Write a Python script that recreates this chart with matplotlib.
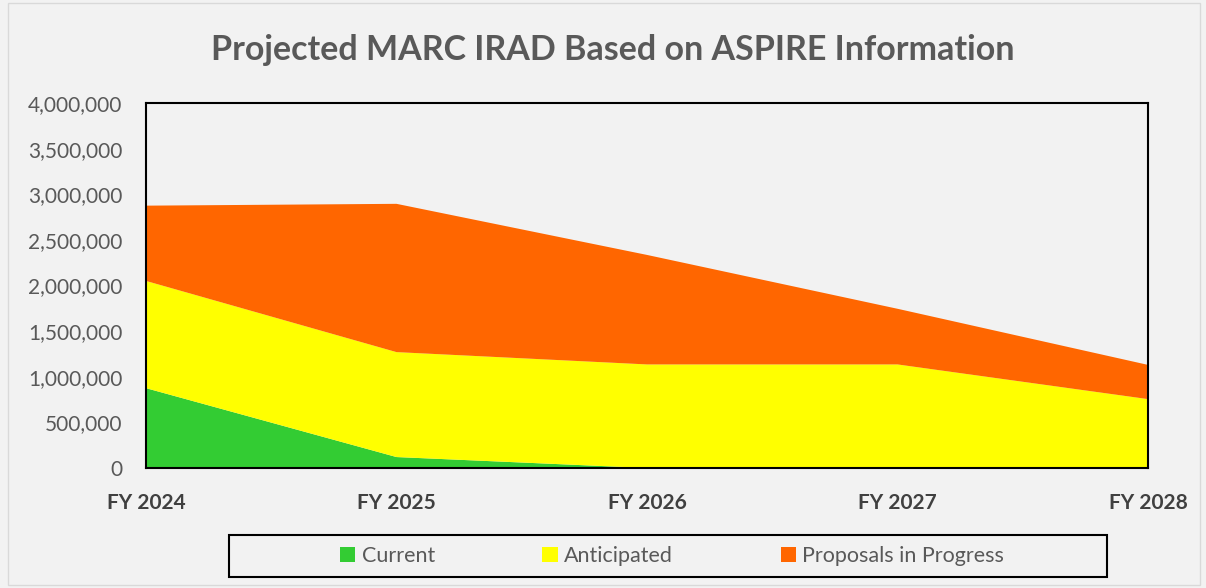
import matplotlib.pyplot as plt
from matplotlib.patches import Rectangle
from matplotlib.ticker import FuncFormatter

# donnees (valeurs empilees)
annees = ['FY 2024', 'FY 2025', 'FY 2026', 'FY 2027', 'FY 2028']
current = [875000, 120000, 0, 0, 0]
anticipated = [1175000, 1150000, 1135000, 1135000, 755000]
proposals = [825000, 1625000, 1200000, 610000, 375000]
series_labels = ['Current', 'Anticipated', 'Proposals in Progress']
series_colors = ['#33CC33', '#FFFF00', '#FF6600']

plt.rcParams['font.family'] = ['Lato', 'DejaVu Sans']

fig = plt.figure(figsize=(12.06, 5.88), dpi=100)
fig.patch.set_facecolor('#F2F2F2')

# cadre exterieur du graphique
fig.patches.append(Rectangle((8 / 1206, 3 / 588), 1192 / 1206, 582 / 588,
                             transform=fig.transFigure, fill=False,
                             edgecolor='#D9D9D9', linewidth=1))
# cadre de la legende
fig.patches.append(Rectangle((229 / 1206, 11 / 588), 878 / 1206, 42 / 588,
                             transform=fig.transFigure, fill=False,
                             edgecolor='black', linewidth=1.5))

ax = fig.add_axes([146 / 1206, 120 / 588, 1002 / 1206, 365 / 588])
ax.set_facecolor('#F2F2F2')

x = range(len(annees))
ax.stackplot(x, current, anticipated, proposals,
             colors=series_colors, labels=series_labels, linewidth=0)

ax.set_xlim(0, len(annees) - 1)
ax.set_ylim(0, 4000000)
ax.set_yticks(range(0, 4000001, 500000))
ax.yaxis.set_major_formatter(FuncFormatter(lambda v, p: f'{int(v):,}'))
ax.set_xticks(list(x))
ax.set_xticklabels(annees, fontweight='bold', color='#404040', fontsize=15)
ax.tick_params(axis='y', length=0, pad=17, labelsize=15, labelcolor='#595959')
ax.tick_params(axis='x', length=0, pad=18)

for s in ax.spines.values():
    s.set_color('black')
    s.set_linewidth(1.5)

fig.text(613 / 1206, 1 - 50 / 588, 'Projected MARC IRAD Based on ASPIRE Information',
         ha='center', va='center', fontsize=24.5, fontweight='bold', color='#595959')

leg = fig.legend(loc='center', bbox_to_anchor=(672 / 1206, 32 / 588),
                 ncol=3, frameon=False, fontsize=15.5,
                 handlelength=0.7, handleheight=0.7, handletextpad=0.3,
                 columnspacing=5.0)
for t in leg.get_texts():
    t.set_color('#595959')

plt.savefig('out.png', dpi=100, facecolor=fig.get_facecolor())
